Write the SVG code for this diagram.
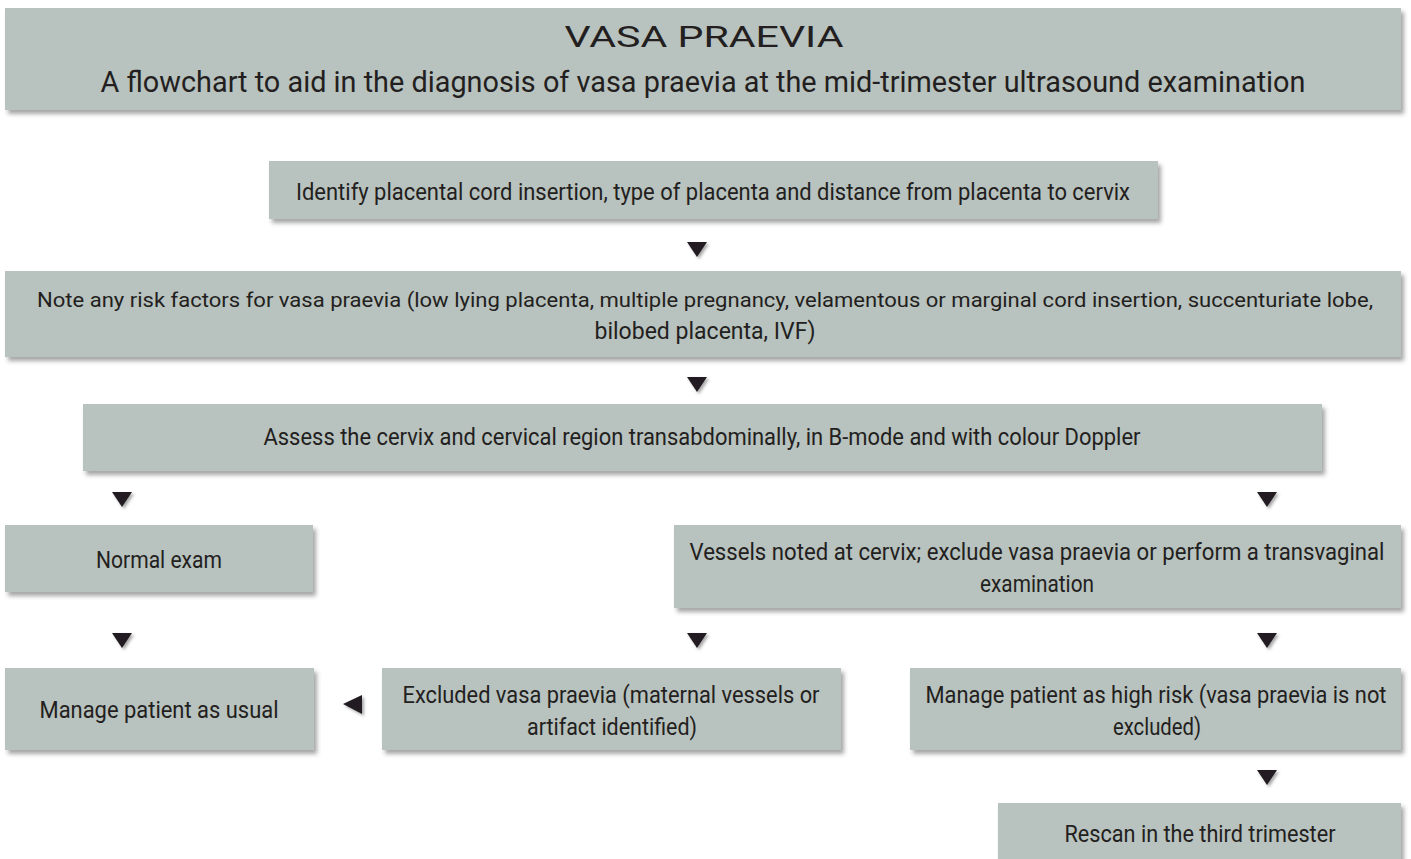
<svg xmlns="http://www.w3.org/2000/svg" width="1411" height="859" viewBox="0 0 1411 859">
<defs>
<filter id="sh" x="-5%" y="-20%" width="110%" height="150%">
<feDropShadow dx="3" dy="4" stdDeviation="2.2" flood-color="#3a3a3a" flood-opacity="0.45"/>
</filter>
<filter id="ash" x="-50%" y="-50%" width="200%" height="200%">
<feDropShadow dx="2" dy="2" stdDeviation="1.5" flood-color="#3a3a3a" flood-opacity="0.45"/>
</filter>
<path id="down" d="M-10,0 L10,0 L0,15 Z"/>
</defs>
<style>
.box{fill:#b8c2be;filter:url(#sh)}
.t{font-family:Roboto,"Liberation Sans",sans-serif;font-size:23px;fill:#231f20;text-anchor:middle}
.s{font-size:21px}
.h{font-family:Roboto,"Liberation Sans",sans-serif;font-size:30px;fill:#231f20;text-anchor:middle}
.arr{fill:#231f20;filter:url(#ash)}
</style>
<rect width="1411" height="859" fill="#ffffff"/>

<g id="title">
<rect class="box" x="5" y="8" width="1396" height="102"/>
<text class="h" x="704" y="47" textLength="279" lengthAdjust="spacingAndGlyphs">VASA PRAEVIA</text>
<text class="h" x="703" y="92" textLength="1205" lengthAdjust="spacingAndGlyphs">A flowchart to aid in the diagnosis of vasa praevia at the mid-trimester ultrasound examination</text>
</g>

<g id="identify">
<rect class="box" x="269" y="161" width="889" height="58"/>
<text class="t" x="713" y="200" textLength="834" lengthAdjust="spacingAndGlyphs">Identify placental cord insertion, type of placenta and distance from placenta to cervix</text>
</g>

<g id="risk">
<rect class="box" x="5" y="271" width="1396" height="86"/>
<text class="t s" x="705" y="307" textLength="1336" lengthAdjust="spacingAndGlyphs">Note any risk factors for vasa praevia (low lying placenta, multiple pregnancy, velamentous or marginal cord insertion, succenturiate lobe,</text>
<text class="t" x="705" y="339" textLength="221" lengthAdjust="spacingAndGlyphs">bilobed placenta, IVF)</text>
</g>

<g id="assess">
<rect class="box" x="83" y="404" width="1239" height="67"/>
<text class="t" x="702" y="445" textLength="877" lengthAdjust="spacingAndGlyphs">Assess the cervix and cervical region transabdominally, in B-mode and with colour Doppler</text>
</g>

<g id="normal">
<rect class="box" x="5" y="525" width="308" height="67"/>
<text class="t" x="159" y="568" textLength="126" lengthAdjust="spacingAndGlyphs">Normal exam</text>
</g>

<g id="vessels">
<rect class="box" x="674" y="525" width="727" height="83"/>
<text class="t" x="1037" y="560" textLength="695" lengthAdjust="spacingAndGlyphs">Vessels noted at cervix; exclude vasa praevia or perform a transvaginal</text>
<text class="t" x="1037" y="592" textLength="114" lengthAdjust="spacingAndGlyphs">examination</text>
</g>

<g id="usual">
<rect class="box" x="5" y="668" width="309" height="82"/>
<text class="t" x="159" y="718" textLength="239" lengthAdjust="spacingAndGlyphs">Manage patient as usual</text>
</g>

<g id="excluded">
<rect class="box" x="382" y="668" width="459" height="82"/>
<text class="t" x="611" y="703" textLength="417" lengthAdjust="spacingAndGlyphs">Excluded vasa praevia (maternal vessels or</text>
<text class="t" x="612" y="735" textLength="170" lengthAdjust="spacingAndGlyphs">artifact identified)</text>
</g>

<g id="highrisk">
<rect class="box" x="910" y="668" width="491" height="82"/>
<text class="t" x="1156" y="703" textLength="461" lengthAdjust="spacingAndGlyphs">Manage patient as high risk (vasa praevia is not</text>
<text class="t" x="1157" y="735" textLength="88" lengthAdjust="spacingAndGlyphs">excluded)</text>
</g>

<g id="rescan">
<rect class="box" x="998" y="803" width="403" height="70"/>
<text class="t" x="1200" y="842" textLength="271" lengthAdjust="spacingAndGlyphs">Rescan in the third trimester</text>
</g>

<g id="connectors">
<use href="#down" class="arr" x="697" y="242"/>
<use href="#down" class="arr" x="697" y="377"/>
<use href="#down" class="arr" x="122" y="492"/>
<use href="#down" class="arr" x="1267" y="492"/>
<use href="#down" class="arr" x="122" y="633"/>
<use href="#down" class="arr" x="697" y="633"/>
<use href="#down" class="arr" x="1267" y="633"/>
<use href="#down" class="arr" x="1267" y="770"/>
<path class="arr" d="M343,704 L362,695 L362,714 Z"/>
</g>
</svg>
